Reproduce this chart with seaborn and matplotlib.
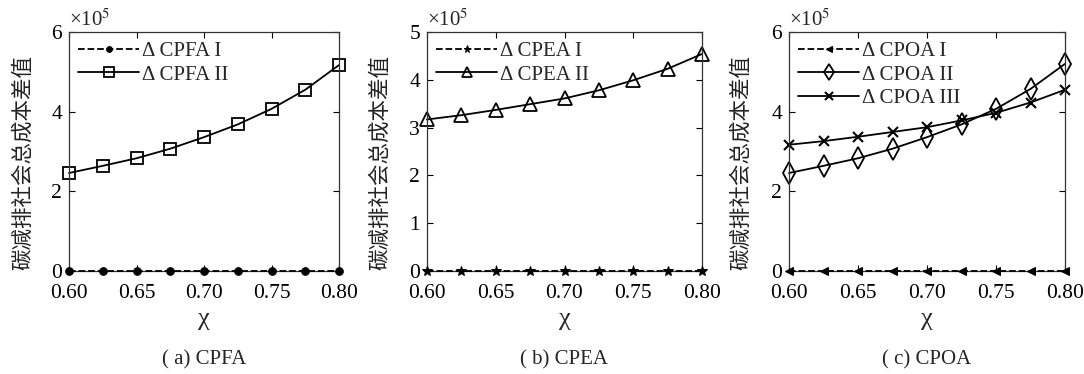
import numpy as np
import pandas as pd
import matplotlib
matplotlib.use("Agg")
import matplotlib.pyplot as plt
import seaborn as sns

# ---- data ----
chi = [0.600, 0.625, 0.650, 0.675, 0.700, 0.725, 0.750, 0.775, 0.800]
cpfa_1 = [0, 0, 0, 0, 0, 0, 0, 0, 0]
cpfa_2 = [2.46, 2.64, 2.83, 3.07, 3.36, 3.68, 4.07, 4.55, 5.17]
cpea_1 = [0, 0, 0, 0, 0, 0, 0, 0, 0]
cpea_2 = [3.17, 3.26, 3.37, 3.49, 3.61, 3.78, 3.99, 4.23, 4.54]
cpoa_1 = [0, 0, 0, 0, 0, 0, 0, 0, 0]
cpoa_2 = [2.46, 2.64, 2.83, 3.07, 3.36, 3.68, 4.07, 4.57, 5.20]
cpoa_3 = [3.17, 3.26, 3.37, 3.49, 3.61, 3.78, 3.97, 4.23, 4.55]

xticks = [0.60, 0.65, 0.70, 0.75, 0.80]
xtick_labels = ["0.60", "0.65", "0.70", "0.75", "0.80"]
ylabel = "碳减排社会总成本差值"
xlabel = "χ"
captions = ["( a) CPFA", "( b) CPEA", "( c) CPOA"]
scale_text = "×10$^5$"

sns.set_theme(style="white")
plt.rcParams["font.family"] = ["Liberation Serif", "Noto Sans CJK SC", "DejaVu Sans"]
plt.rcParams["mathtext.fontset"] = "stix"
plt.rcParams["axes.unicode_minus"] = False

W, H = 1084, 374
fig = plt.figure(figsize=(W / 100, H / 100), dpi=100)

boxes = [(69, 339), (427, 702), (789, 1065)]
top_px, bot_px = 32, 271
axes = []
for l, r in boxes:
    ax = fig.add_axes([l / W, (H - bot_px) / H, (r - l) / W, (bot_px - top_px) / H])
    axes.append(ax)

FS = 15.5
LFS = 15
LW = 1.3

def style(ax, ylim, yticks, ylabel_x):
    ax.set_xlim(0.6, 0.8)
    ax.set_ylim(*ylim)
    ax.set_xticks(xticks)
    ax.set_xticklabels(xtick_labels, fontsize=FS)
    ax.set_yticks(yticks)
    ax.set_yticklabels([str(t) for t in yticks], fontsize=FS)
    ax.tick_params(direction="in", length=4, width=0.8, top=True, right=True,
                   bottom=True, left=True, colors="black")
    ax.tick_params(axis="x", pad=9)
    ax.tick_params(axis="y", pad=5)
    for s in ax.spines.values():
        s.set_color("#333333")
        s.set_linewidth(0.9)
        s.set_visible(True)
    ax.set_xlabel(xlabel, fontsize=19, labelpad=4)
    ax.set_ylabel("")
    ax.text(0.0, 1.005, scale_text, transform=ax.transAxes, fontsize=15,
            ha="left", va="bottom")
    fig.text(ylabel_x / W, (H - 162) / H, ylabel, rotation=90,
             ha="center", va="center", fontsize=15.5, color="#222222")
    ax.grid(False)

def legend(ax):
    leg = ax.legend(loc="upper left", frameon=False, fontsize=LFS, handlelength=2.9,
                    handletextpad=0.15, labelspacing=0.2, borderaxespad=0.35,
                    borderpad=0.1, markerscale=0.75)
    return leg

# panel a
ax = axes[0]
sns.lineplot(x=chi, y=cpfa_1, ax=ax, color="black", linestyle="--", lw=LW,
             marker="o", markersize=5.5, markerfacecolor="black",
             markeredgecolor="black", label="Δ CPFA I", clip_on=False, zorder=5)
sns.lineplot(x=chi, y=cpfa_2, ax=ax, color="black", linestyle="-", lw=LW,
             marker="s", markersize=9, markerfacecolor="none",
             markeredgecolor="black", markeredgewidth=1.3, label="Δ CPFA II",
             clip_on=False)
style(ax, (0, 6), [0, 2, 4, 6], 24)
legend(ax)

# panel b
ax = axes[1]
sns.lineplot(x=chi, y=cpea_1, ax=ax, color="black", linestyle="--", lw=LW,
             marker="*", markersize=7, markerfacecolor="black",
             markeredgecolor="black", label="Δ CPEA I", clip_on=False, zorder=5)
sns.lineplot(x=chi, y=cpea_2, ax=ax, color="black", linestyle="-", lw=LW,
             marker="^", markersize=10, markerfacecolor="none",
             markeredgecolor="black", markeredgewidth=1.3, label="Δ CPEA II",
             clip_on=False)
style(ax, (0, 5), [0, 1, 2, 3, 4, 5], 381)
legend(ax)

# panel c
ax = axes[2]
sns.lineplot(x=chi, y=cpoa_1, ax=ax, color="black", linestyle="--", lw=LW,
             marker="<", markersize=6, markerfacecolor="black",
             markeredgecolor="black", label="Δ CPOA I", clip_on=False, zorder=5)
sns.lineplot(x=chi, y=cpoa_2, ax=ax, color="black", linestyle="-", lw=LW,
             marker="d", markersize=11, markerfacecolor="none",
             markeredgecolor="black", markeredgewidth=1.3, label="Δ CPOA II",
             clip_on=False)
sns.lineplot(x=chi, y=cpoa_3, ax=ax, color="black", linestyle="-", lw=LW,
             marker="x", markersize=7, markerfacecolor="black",
             markeredgecolor="black", markeredgewidth=1.5, label="Δ CPOA III",
             clip_on=False)
style(ax, (0, 6), [0, 2, 4, 6], 742)
legend(ax)

for (l, r), cap in zip(boxes, captions):
    fig.text((l + r) / 2 / W, (H - 360) / H, cap, ha="center", va="center",
             fontsize=15)

fig.savefig("out.png", dpi=100, facecolor="white")
